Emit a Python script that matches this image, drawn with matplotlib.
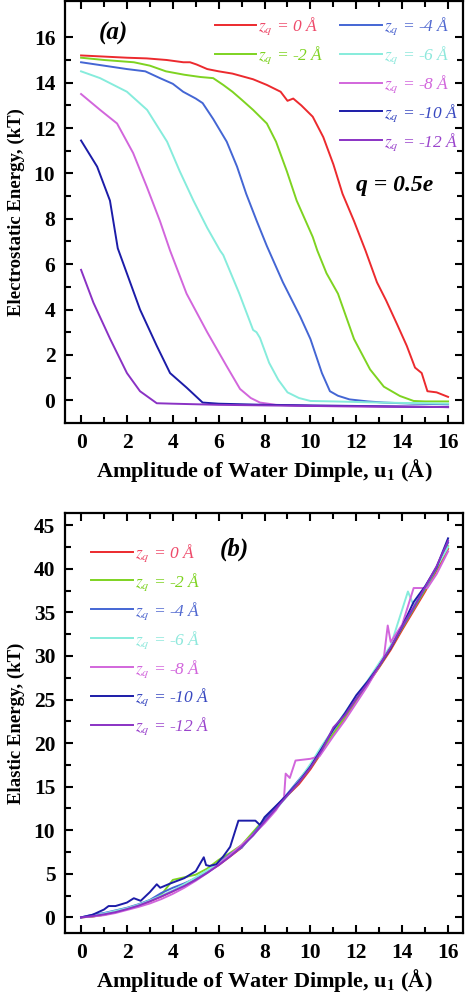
import matplotlib
matplotlib.use("Agg")
import matplotlib.pyplot as plt

plt.rcParams['font.family'] = ['Liberation Serif', 'DejaVu Serif']
plt.rcParams['mathtext.fontset'] = 'stix'

# ---- panel (a): electrostatic energy vs dimple amplitude ----
a_x0 = [0, 1, 2, 2.86, 3.73, 4.46, 4.75, 5.04, 5.5, 6.0, 6.6, 7.5, 8.1, 8.7, 9.0, 9.25, 9.6, 10.1, 10.56,
        11.0, 11.4, 11.9, 12.4, 12.9, 13.3, 13.8, 14.2, 14.56, 14.85, 15.1, 15.5, 16.0]
a_y0 = [15.2, 15.15, 15.1, 15.07, 15.0, 14.9, 14.9, 14.8, 14.6, 14.5, 14.4, 14.15, 13.9, 13.6, 13.2, 13.3, 13.0,
        12.5, 11.6, 10.4, 9.1, 7.9, 6.6, 5.2, 4.4, 3.3, 2.4, 1.44, 1.2, 0.4, 0.35, 0.15]
a_x2 = [0, 1, 2.3, 3.0, 3.7, 4.5, 5.2, 5.76, 6.2, 6.6, 7.0, 7.5, 8.1, 8.5, 8.97, 9.4, 10.1, 10.3, 10.7, 11.2,
        11.9, 12.6, 13.2, 13.9, 14.5, 15.0, 16.0]
a_y2 = [15.1, 15.0, 14.9, 14.75, 14.5, 14.35, 14.25, 14.2, 13.9, 13.6, 13.25, 12.8, 12.2, 11.4, 10.1, 8.8, 7.2,
        6.6, 5.6, 4.7, 2.7, 1.36, 0.6, 0.19, -0.03, -0.05, -0.05]
a_x4 = [0, 1, 2.0, 2.8, 3.44, 4.0, 4.45, 5.0, 5.3, 5.76, 6.35, 6.8, 7.2, 7.66, 8.1, 8.8, 9.55, 10.0, 10.3, 10.5,
        10.85, 11.2, 11.7, 12.5, 13.2, 14.5, 16.0]
a_y4 = [14.9, 14.75, 14.6, 14.5, 14.2, 13.95, 13.6, 13.3, 13.1, 12.4, 11.4, 10.3, 9.1, 7.9, 6.8, 5.2, 3.7, 2.7,
        1.8, 1.2, 0.4, 0.2, 0.04, -0.05, -0.1, -0.15, -0.18]
a_x6 = [0, 0.83, 2.0, 2.88, 3.75, 4.3, 4.9, 5.5, 6.06, 6.2, 6.9, 7.5, 7.65, 7.8, 8.2, 8.6, 9.0, 9.5, 10.0, 11.0,
        13.0, 16.0]
a_y6 = [14.5, 14.2, 13.6, 12.8, 11.4, 10.1, 8.8, 7.6, 6.6, 6.4, 4.7, 3.1, 3.0, 2.75, 1.65, 0.9, 0.35, 0.1, -0.03,
        -0.05, -0.1, -0.15]
a_x8 = [0, 0.83, 1.57, 2.27, 2.87, 3.44, 3.88, 4.6, 5.5, 6.35, 6.93, 7.4, 7.8, 8.5, 10.0, 13.0, 16.0]
a_y8 = [13.5, 12.8, 12.2, 10.9, 9.4, 7.9, 6.6, 4.7, 3.0, 1.5, 0.5, 0.1, -0.1, -0.2, -0.25, -0.28, -0.3]
a_x10 = [0, 0.7, 1.26, 1.6, 2.57, 3.3, 3.88, 4.6, 5.3, 6.0, 8.0, 12.0, 16.0]
a_y10 = [11.45, 10.3, 8.8, 6.7, 4.0, 2.4, 1.2, 0.56, -0.1, -0.15, -0.2, -0.25, -0.3]
a_x12 = [0, 0.54, 1.27, 2.0, 2.57, 3.3, 4.0, 6.0, 10.0, 16.0]
a_y12 = [5.75, 4.3, 2.7, 1.2, 0.4, -0.13, -0.15, -0.2, -0.25, -0.3]

# ---- panel (b): elastic energy vs dimple amplitude ----
b_x = [0, 0.5, 1, 1.5, 2, 2.5, 3, 3.5, 4, 4.5, 5, 5.5, 6, 6.5, 7, 7.5, 8, 8.5, 9, 9.5, 10, 10.5, 11, 11.5,
       12, 12.5, 13, 13.5, 14, 14.5, 15, 15.5, 16]
b_y0 = [0, 0.1, 0.3, 0.6, 0.95, 1.35, 1.85, 2.4, 3.0, 3.7, 4.4, 5.2, 6.0, 7.0, 8.0, 9.6, 11.2, 12.6, 14.0, 15.3,
        17.0, 19.0, 21.0, 22.8, 24.8, 26.8, 28.7, 30.7, 33.0, 35.2, 37.4, 39.8, 42.3]
b_y2 = [0, 0.1, 0.3, 0.6, 1.0, 1.4, 1.9, 2.6, 4.3, 4.6, 4.9, 5.6, 6.6, 7.4, 8.3, 9.8, 11.3, 12.6, 14.0, 15.5,
        17.2, 19.1, 21.1, 23.0, 25.0, 26.9, 28.8, 30.9, 33.2, 35.4, 37.6, 40.0, 42.6]
b_y4 = [0, 0.3, 0.5, 0.8, 1.1, 1.5, 2.0, 2.8, 3.4, 3.9, 4.5, 5.2, 6.2, 7.3, 8.0, 9.6, 11.2, 12.7, 14.2, 15.8,
        17.4, 19.6, 21.5, 23.3, 25.2, 27.0, 28.9, 31.0, 33.3, 35.5, 37.8, 40.1, 43.0]
b_x6 = [0, 0.5, 1, 1.5, 2, 2.5, 3, 3.5, 4, 4.5, 5, 5.5, 6, 6.5, 7, 7.5, 8, 8.5, 9, 9.5, 10, 10.5, 11, 11.5,
        12, 12.5, 13, 13.5, 14.25, 14.5, 15, 15.5, 16]
b_y6 = [0, 0.2, 0.45, 0.75, 1.05, 1.45, 1.95, 2.5, 3.1, 3.8, 4.6, 5.4, 6.2, 7.1, 8.1, 9.4, 10.9, 12.4, 14.0,
        15.7, 17.6, 19.7, 21.6, 23.5, 25.4, 27.2, 29.2, 31.2, 37.4, 35.8, 37.9, 40.2, 42.5]
b_x8 = [0, 0.5, 1, 1.5, 2, 2.5, 3, 3.5, 4, 4.5, 5, 5.5, 6, 6.5, 7, 7.5, 8, 8.5, 8.85, 8.92, 9.1, 9.35, 10.0,
        10.4, 11, 11.5, 12, 12.5, 13.2, 13.37, 13.5, 14.0, 14.5, 15.1, 15.5, 16]
b_y8 = [0, 0.1, 0.25, 0.5, 0.85, 1.2, 1.6, 2.1, 2.7, 3.4, 4.2, 5.1, 6.1, 7.2, 8.3, 9.5, 10.8, 12.3, 13.8, 16.5,
        16.0, 18.0, 18.2, 18.5, 20.8, 22.6, 24.6, 26.6, 29.8, 33.5, 31.6, 33.6, 37.8, 37.8, 39.4, 42.0]
b_x10 = [0, 0.5, 1.0, 1.2, 1.5, 2.0, 2.3, 2.6, 3.0, 3.3, 3.45, 3.9, 4.5, 5.0, 5.35, 5.45, 5.6, 5.9, 6.2, 6.5,
         6.86, 7.2, 7.6, 7.8, 8.0, 8.5, 9, 9.5, 10, 10.5, 11, 11.5, 12, 12.5, 13, 13.5, 14, 14.5, 15, 15.5, 16]
b_y10 = [0, 0.3, 0.9, 1.3, 1.3, 1.7, 2.2, 1.9, 2.9, 3.8, 3.4, 3.9, 4.5, 5.3, 6.9, 6.0, 5.9, 6.1, 7.0, 8.1,
         11.1, 11.1, 11.1, 10.6, 11.5, 12.8, 14.1, 15.6, 17.3, 19.4, 21.6, 23.4, 25.5, 27.1, 28.9, 30.9, 33.4,
         36.2, 38.0, 40.2, 43.5]
b_y12 = [0, 0.15, 0.35, 0.6, 0.95, 1.35, 1.85, 2.4, 3.0, 3.6, 4.3, 5.1, 6.0, 7.0, 8.1, 9.4, 11.0, 12.5, 14.0,
         15.5, 17.2, 19.2, 21.8, 23.2, 25.1, 26.9, 28.9, 31.0, 33.4, 35.6, 37.9, 40.3, 43.2]

labels = [r'$z_q$ = 0 Å', r'$z_q$ = -2 Å', r'$z_q$ = -4 Å', r'$z_q$ = -6 Å',
          r'$z_q$ = -8 Å', r'$z_q$ = -10 Å', r'$z_q$ = -12 Å']
colors = ['#ec2a2e', '#7ed321', '#4466d4', '#86ecdc', '#d266dc', '#1c1ca8', '#8a32c4']
text_colors = ['#ee4a6a', '#7ed321', '#5068d0', '#8ee8dc', '#d266dc', '#3848c0', '#9a44cc']

a_data = [(a_x0, a_y0), (a_x2, a_y2), (a_x4, a_y4), (a_x6, a_y6), (a_x8, a_y8), (a_x10, a_y10), (a_x12, a_y12)]
b_data = [(b_x, b_y0), (b_x, b_y2), (b_x, b_y4), (b_x6, b_y6), (b_x8, b_y8), (b_x10, b_y10), (b_x, b_y12)]

fig = plt.figure(figsize=(4.66, 9.99), dpi=100)
ax1 = fig.add_axes([0.1395, 0.5766, 0.854, 0.4224])
ax2 = fig.add_axes([0.1395, 0.066, 0.854, 0.4204])

xlabel = r'Amplitude of Water Dimple, u$_\mathbf{1}$ (Å)'


def style(ax):
    ax.set_xlim(-0.7, 16.65)
    ax.set_xticks(range(0, 17, 2))
    ax.set_xticks(range(1, 17, 2), minor=True)
    ax.tick_params(which='both', direction='in', top=True, right=True, width=1.5,
                   labelsize=15.5, pad=7)
    ax.tick_params(which='major', length=6)
    ax.tick_params(which='minor', length=4)
    for lab in ax.get_xticklabels() + ax.get_yticklabels():
        lab.set_fontweight('bold')
    for s in ax.spines.values():
        s.set_linewidth(1.6)
    ax.set_xlabel(xlabel, fontsize=16, fontweight='bold', labelpad=3)


lines1 = []
for (x, y), c, lab in zip(a_data, colors, labels):
    ln, = ax1.plot(x, y, color=c, lw=1.4, label=lab)
    lines1.append(ln)
ax1.set_ylim(-1, 17.6)
ax1.set_yticks(range(0, 17, 2))
ax1.set_yticks(range(1, 17, 2), minor=True)
style(ax1)
ax1.set_ylabel('Electrostatic Energy, (kT)', fontsize=13.5, fontweight='bold', labelpad=6)
ax1.text(0.085, 0.922, '(a)', transform=ax1.transAxes, fontsize=18, fontweight='bold',
         style='italic', ha='left', va='center')
ax1.text(0.73, 0.562, 'q = 0.5e', transform=ax1.transAxes, fontsize=17, fontweight='bold',
         style='italic', ha='left', va='center')

leg_kw = dict(frameon=False, handlelength=2.4, handletextpad=0.12,
              labelspacing=0.42, borderpad=0.1, prop={'style': 'italic', 'size': 12.5})
lg1 = ax1.legend(lines1[:2], labels[:2], loc='upper left', bbox_to_anchor=(0.35, 0.99), **leg_kw)
for t, c in zip(lg1.get_texts(), text_colors[:2]):
    t.set_color(c)
ax1.add_artist(lg1)
lg2 = ax1.legend(lines1[2:], labels[2:], loc='upper left', bbox_to_anchor=(0.665, 0.99), **leg_kw)
for t, c in zip(lg2.get_texts(), text_colors[2:]):
    t.set_color(c)

for (x, y), c, lab in zip(b_data, colors, labels):
    ax2.plot(x, y, color=c, lw=1.4, label=lab)
ax2.set_ylim(-1.8, 46.4)
ax2.set_yticks(range(0, 46, 5))
ax2.set_yticks([v + 2.5 for v in range(0, 45, 5)], minor=True)
style(ax2)
ax2.set_ylabel('Elastic Energy, (kT)', fontsize=13.5, fontweight='bold', labelpad=6)
ax2.text(0.39, 0.914, '(b)', transform=ax2.transAxes, fontsize=18, fontweight='bold',
         style='italic', ha='left', va='center')
lg3 = ax2.legend(loc='upper left', bbox_to_anchor=(0.04, 0.955), **leg_kw)
for t, c in zip(lg3.get_texts(), text_colors):
    t.set_color(c)

fig.savefig('out.png', dpi=100)
